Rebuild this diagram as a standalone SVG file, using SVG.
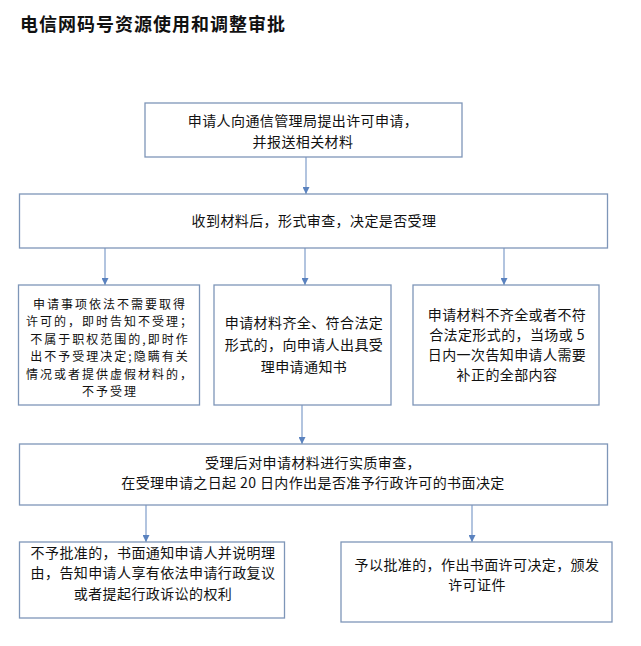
<svg xmlns="http://www.w3.org/2000/svg" width="641" height="646" viewBox="0 0 641 646">
<defs>
<style>
.bx{fill:#ffffff;stroke:#7e96b8;stroke-width:1.3}
.t{font-family:"Noto Sans CJK SC","Liberation Sans",sans-serif;font-size:14px;fill:#111;text-anchor:middle;letter-spacing:0.4px}
.ts{font-family:"Noto Sans CJK SC","Liberation Sans",sans-serif;font-size:12px;fill:#111;text-anchor:middle;letter-spacing:2px}
.ttl{font-family:"Noto Sans CJK SC","Liberation Sans",sans-serif;font-size:18px;font-weight:bold;fill:#111;letter-spacing:1px}
.c{stroke:#98b0d4;stroke-width:1.5;fill:none}
</style>
<marker id="ah" viewBox="0 0 10 10" refX="10" refY="5" markerWidth="7" markerHeight="7" markerUnits="userSpaceOnUse" orient="auto">
<path d="M0,0 L10,5 L0,10 z" fill="#5a82bf"/>
</marker>
</defs>
<rect width="641" height="646" fill="#ffffff"/>
<text class="ttl" x="20" y="31">电信网码号资源使用和调整审批</text>

<g id="connectors">
<line class="c" x1="306" y1="157" x2="306" y2="194" marker-end="url(#ah)"/>
<line class="c" x1="105" y1="248" x2="105" y2="285" marker-end="url(#ah)"/>
<line class="c" x1="305" y1="248" x2="305" y2="285" marker-end="url(#ah)"/>
<line class="c" x1="504" y1="248" x2="504" y2="285" marker-end="url(#ah)"/>
<line class="c" x1="302" y1="405" x2="302" y2="444" marker-end="url(#ah)"/>
<line class="c" x1="146" y1="505" x2="146" y2="542" marker-end="url(#ah)"/>
<line class="c" x1="472" y1="505" x2="472" y2="542" marker-end="url(#ah)"/>
</g>

<g id="n1">
<rect class="bx" x="145" y="103" width="317" height="54"/>
<text class="t" x="303" y="126">申请人向通信管理局提出许可申请，</text>
<text class="t" x="303" y="147">并报送相关材料</text>
</g>

<g id="n2">
<rect class="bx" x="19.5" y="194" width="588" height="54"/>
<text class="t" x="314" y="226">收到材料后，形式审查，决定是否受理</text>
</g>

<g id="n3a">
<rect class="bx" x="18.5" y="285" width="181" height="120"/>
<text class="ts" x="110" y="308.5">申请事项依法不需要取得</text>
<text class="ts" x="110" y="326">许可的，即时告知不受理；</text>
<text class="ts" x="110" y="343.5">不属于职权范围的,即时作</text>
<text class="ts" x="110" y="361">出不予受理决定;隐瞒有关</text>
<text class="ts" x="110" y="378.5">情况或者提供虚假材料的，</text>
<text class="ts" x="110" y="396">不予受理</text>
</g>

<g id="n3b">
<rect class="bx" x="214" y="285" width="177" height="120"/>
<text class="t" x="304" y="328">申请材料齐全、符合法定</text>
<text class="t" x="304" y="350">形式的，向申请人出具受</text>
<text class="t" x="304" y="372">理申请通知书</text>
</g>

<g id="n3c">
<rect class="bx" x="413" y="285" width="186" height="120"/>
<text class="t" x="507" y="320">申请材料不齐全或者不符</text>
<text class="t" x="507" y="340">合法定形式的，当场或 5</text>
<text class="t" x="507" y="360">日内一次告知申请人需要</text>
<text class="t" x="507" y="380">补正的全部内容</text>
</g>

<g id="n4">
<rect class="bx" x="19.5" y="444" width="588" height="61"/>
<text class="t" x="313" y="468">受理后对申请材料进行实质审查，</text>
<text class="t" x="313" y="488">在受理申请之日起 20 日内作出是否准予行政许可的书面决定</text>
</g>

<g id="n5a">
<rect class="bx" x="19.5" y="542" width="265" height="76"/>
<text class="t" x="153" y="558">不予批准的，书面通知申请人并说明理</text>
<text class="t" x="153" y="578">由，告知申请人享有依法申请行政复议</text>
<text class="t" x="153" y="599">或者提起行政诉讼的权利</text>
</g>

<g id="n5b">
<rect class="bx" x="341" y="542" width="271" height="80"/>
<text class="t" x="477" y="570">予以批准的，作出书面许可决定，颁发</text>
<text class="t" x="477" y="590">许可证件</text>
</g>
</svg>
